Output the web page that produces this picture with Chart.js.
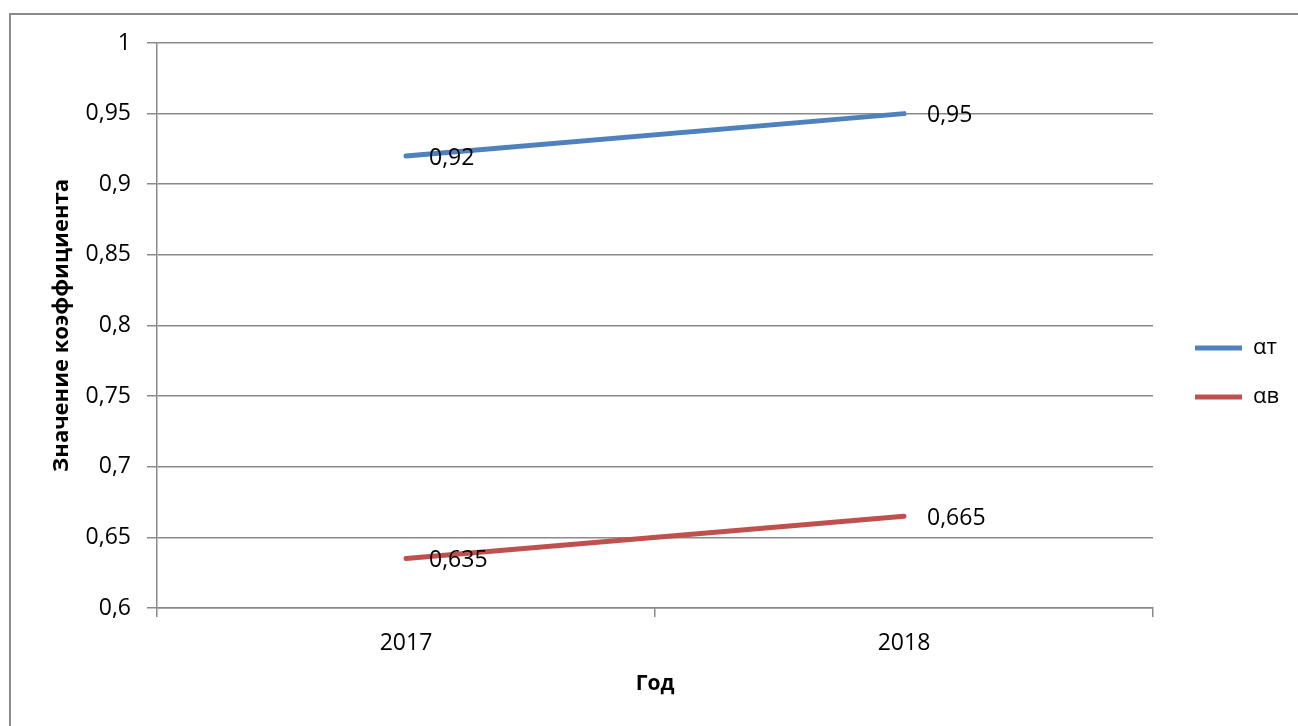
<!DOCTYPE html>
<html>
<head>
<meta charset="utf-8">
<script src="https://cdn.jsdelivr.net/npm/chart.js@4.4.1/dist/chart.umd.min.js"></script>
<style>
  body { margin: 0; background: #fff; }
  #chart { display: block; }
</style>
</head>
<body>
<canvas id="chart" width="1298" height="726"></canvas>
<script>
// data
const years = ['2017', '2018'];
const alphaT = [0.92, 0.95];
const alphaB = [0.635, 0.665];
const seriesNames = ['αт', 'αв'];
const yMin = 0.6, yMax = 1, yStep = 0.05;

const gridColor = '#8a8a8a';

function fmt(v) {
  return String(Number(v.toFixed(3))).replace('.', ',');
}

// white page + grey frame (left and top edge visible)
const frame = {
  id: 'frame',
  beforeDraw(chart) {
    const ctx = chart.ctx;
    ctx.save();
    ctx.fillStyle = '#fff';
    ctx.fillRect(0, 0, chart.width, chart.height);
    ctx.strokeStyle = gridColor;
    ctx.lineWidth = 2;
    ctx.beginPath();
    ctx.moveTo(10, chart.height);
    ctx.lineTo(10, 14);
    ctx.lineTo(chart.width, 14);
    ctx.stroke();
    ctx.restore();
  }
};

// push the legend a bit away from the plot, let it run to the edge
const legendShift = {
  id: 'legendShift',
  afterLayout(chart) {
    chart.legend.left += 15;
    chart.legend.right = chart.width;
  }
};

// value labels right of each point
const valueLabels = {
  id: 'valueLabels',
  afterDatasetsDraw(chart) {
    const ctx = chart.ctx;
    ctx.save();
    ctx.font = '23px "Open Sans"';
    ctx.fillStyle = '#000';
    ctx.textAlign = 'left';
    ctx.textBaseline = 'middle';
    chart.data.datasets.forEach((ds, i) => {
      chart.getDatasetMeta(i).data.forEach((pt, j) => {
        ctx.fillText(fmt(ds.data[j]), pt.x + 23, pt.y + 2);
      });
    });
    ctx.restore();
  }
};

Chart.defaults.font.family = '"Open Sans"';
Chart.defaults.color = '#000';

new Chart(document.getElementById('chart'), {
  type: 'line',
  data: {
    labels: years,
    datasets: [{
      label: seriesNames[0],
      data: alphaT,
      borderColor: '#4F81BD',
      backgroundColor: '#4F81BD',
      borderWidth: 5,
      borderCapStyle: 'round',
      pointRadius: 0,
      pointBorderWidth: 5,
      pointStyle: 'line'
    }, {
      label: seriesNames[1],
      data: alphaB,
      borderColor: '#C0504D',
      backgroundColor: '#C0504D',
      borderWidth: 5,
      borderCapStyle: 'round',
      pointRadius: 0,
      pointBorderWidth: 5,
      pointStyle: 'line'
    }]
  },
  options: {
    responsive: false,
    animation: false,
    layout: { padding: { left: 20, top: 43, right: 45, bottom: 24 } },
    plugins: {
      tooltip: { enabled: false },
      legend: {
        position: 'right',
        maxWidth: 100,
        labels: {
          usePointStyle: true,
          pointStyle: 'line',
          pointStyleWidth: 47,
          padding: 27,
          font: { size: 22 },
          color: '#000'
        }
      }
    },
    scales: {
      x: {
        offset: true,
        grid: { drawOnChartArea: false, offset: true, tickLength: 9, color: gridColor, lineWidth: 1.5 },
        border: { color: gridColor, width: 1.5 },
        ticks: { padding: 13, font: { size: 23 } },
        title: { display: true, text: 'Год', font: { size: 21, weight: 'bold' }, padding: { top: 0, bottom: 5 } },
        afterFit(scale) { scale.height = 94; }
      },
      y: {
        min: yMin,
        max: yMax,
        grid: { tickLength: 10, color: gridColor, lineWidth: 1.5 },
        border: { color: gridColor, width: 1.5 },
        ticks: { stepSize: yStep, padding: 16, font: { size: 23 }, callback: v => fmt(v) },
        title: { display: true, text: 'Значение коэффициента', font: { size: 22, weight: 'bold' }, padding: { top: 29, bottom: 0 } },
        afterFit(scale) { scale.width = 137; }
      }
    }
  },
  plugins: [frame, legendShift, valueLabels]
});
</script>
</body>
</html>
